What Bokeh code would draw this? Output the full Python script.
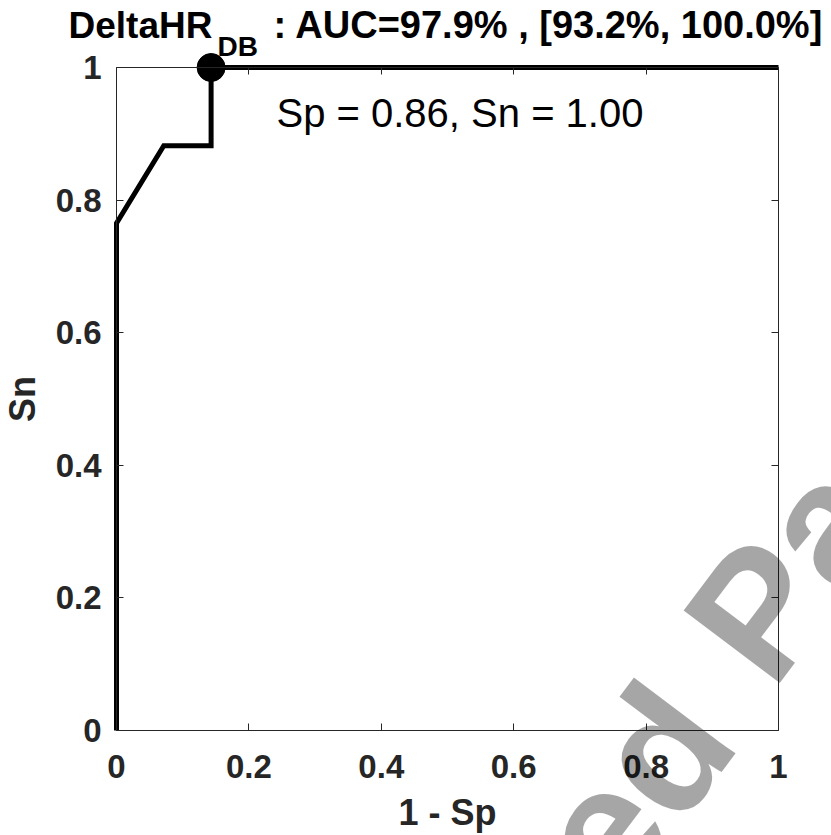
import math
from bokeh.plotting import figure
from bokeh.models import Range1d, LinearAxis, FixedTicker, Label
from bokeh.embed import file_html
from bokeh.resources import INLINE

# ---------------- data ----------------
fpr = [0.0, 0.0, 0.0714, 0.1429, 0.1429, 1.0]      # 1 - Sp
tpr = [0.0, 0.765, 0.882, 0.882, 1.0, 1.0]         # Sn
op_x = [0.1429]                                     # operating point (1 - Sp)
op_y = [1.0]                                        # operating point (Sn)
tick_values = [0, 0.2, 0.4, 0.6, 0.8, 1]
tick_labels = ["0", "0.2", "0.4", "0.6", "0.8", "1"]
title_name = "DeltaHR"
title_sub = "DB"
title_rest = ": AUC=97.9% , [93.2%, 100.0%]"
x_label = "1 - Sp"
y_label = "Sn"
watermark_left = "Accepted"
watermark_right = "Paper"

# ---------------- layout ----------------
FONT = "Liberation Sans"
AX = "#262626"
W, H = 831, 835                   # canvas = frame (nothing gets clipped)
BOX_L, BOX_T = 116, 67            # where the 0..1 box sits on the canvas
BOX_W, BOX_H = 662, 663
BASE_FIX = 0.33                   # em shift to put the alphabetic baseline where wanted


def dx(px):   # pixel x -> data x
    return (px - BOX_L) / BOX_W


def dy(py):   # pixel y -> data y
    return (BOX_T + BOX_H - py) / BOX_H


x0, x1 = -BOX_L / BOX_W, (W - BOX_L) / BOX_W
y0, y1 = -(H - BOX_T - BOX_H) / BOX_H, (BOX_T + BOX_H) / BOX_H

p = figure(frame_width=W, frame_height=H,
           min_border_left=0, min_border_right=0, min_border_top=0, min_border_bottom=0,
           x_range=Range1d(x0, x1), y_range=Range1d(y0, y1),
           x_axis_type=None, y_axis_type=None, title=None,
           output_backend="svg", toolbar_location=None)
p.outline_line_color = None
p.background_fill_color = "white"
p.border_fill_color = "white"


def style_axis(ax, show_labels):
    ax.bounds = (0, 1)
    ax.ticker = FixedTicker(ticks=tick_values)
    ax.axis_line_color = AX
    ax.axis_line_width = 1
    ax.major_tick_line_color = AX
    ax.major_tick_in = 7
    ax.major_tick_out = 0
    ax.minor_tick_line_color = None
    ax.major_label_text_font = FONT
    ax.major_label_text_font_style = "bold"
    ax.major_label_text_font_size = "33px"
    ax.major_label_text_color = AX
    ax.axis_label_text_font = FONT
    ax.axis_label_text_font_style = "bold"
    ax.axis_label_text_font_size = "36px"
    ax.axis_label_text_color = AX
    if show_labels:
        ax.major_label_overrides = {v: t for v, t in zip(tick_values, tick_labels)}
    else:
        ax.major_label_overrides = {v: "" for v in tick_values}


bottom = LinearAxis(fixed_location=0, axis_label=x_label)
style_axis(bottom, True)
bottom.major_label_standoff = 24
bottom.axis_label_standoff = 11
p.add_layout(bottom, "below")

left = LinearAxis(fixed_location=0, axis_label=y_label)
style_axis(left, True)
left.major_label_standoff = 15
left.axis_label_standoff = 10
p.add_layout(left, "left")

top = LinearAxis(fixed_location=1)
style_axis(top, False)
p.add_layout(top, "above")

right = LinearAxis(fixed_location=1)
style_axis(right, False)
p.add_layout(right, "right")

# ---------------- ROC curve ----------------
p.line(fpr, tpr, line_color="black", line_width=5, line_join="miter")
p.scatter(op_x, op_y, marker="circle", size=28, fill_color="black", line_color="black")


def text_label(txt, px, py, size, bold=True, angle=0.0, align="left", alpha=1.0, level="annotation"):
    # (px, py) = wanted alphabetic-baseline anchor in pixels
    a = math.radians(angle)
    shift = BASE_FIX * size
    px2 = px - math.sin(a) * shift
    py2 = py - math.cos(a) * shift
    return Label(x=dx(px2), y=dy(py2), text=txt, text_font=FONT,
                 text_font_style="bold" if bold else "normal",
                 text_font_size=f"{size}px", text_color="black", text_alpha=alpha,
                 angle=angle, angle_units="deg", text_align=align,
                 text_baseline="alphabetic", level=level)


sp_txt = f"Sp = {1 - op_x[0]:.2f}, Sn = {op_y[0]:.2f}"
p.add_layout(text_label(sp_txt, 276, 126, 40, bold=False))

# ---------------- title (with subscript) ----------------
p.add_layout(text_label(title_name, 68, 37, 37))
p.add_layout(text_label(title_sub, 217, 55, 28))
p.add_layout(text_label(title_rest, 273, 37, 38))

# ---------------- watermark ----------------
p.add_layout(text_label(watermark_left, 740, 742, 175, angle=53, align="right",
                        alpha=0.35, level="overlay"))
p.add_layout(text_label(watermark_right, 770, 690, 175, angle=53, align="left",
                        alpha=0.35, level="overlay"))

open("out.html", "w").write(file_html(p, INLINE))
